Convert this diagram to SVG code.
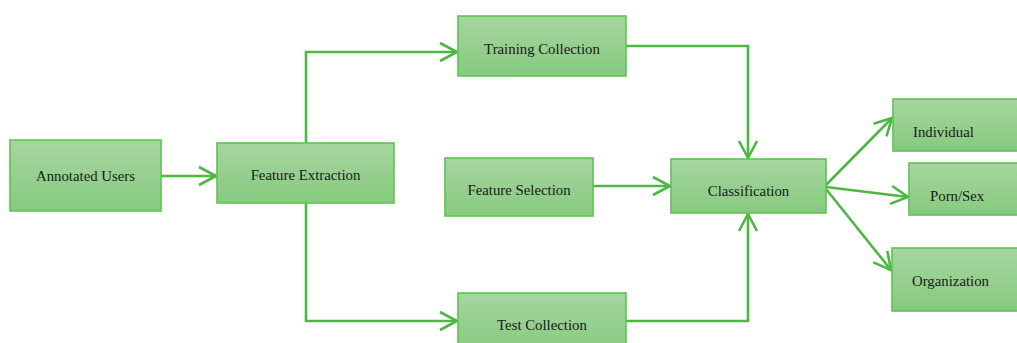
<svg xmlns="http://www.w3.org/2000/svg" width="1017" height="343" viewBox="0 0 1017 343">
  <style>
    .box { fill: url(#boxFill); stroke: #5ec353; stroke-width: 1.6; }
    .lbl { font-family: "Liberation Serif", "DejaVu Serif", serif; font-size: 14.8px; fill: #1a1a1a; }
    .mid { text-anchor: middle; }
    .wire { fill: none; stroke: #4cb843; stroke-width: 2.6; stroke-linejoin: miter; marker-end: url(#chev); }
  </style>
  <defs>
    <linearGradient id="boxFill" x1="0" y1="0" x2="0" y2="1">
      <stop offset="0" stop-color="#a6d6a0"/>
      <stop offset="1" stop-color="#86ca7e"/>
    </linearGradient>
    <marker id="chev" markerUnits="userSpaceOnUse" markerWidth="24" markerHeight="24" viewBox="-20 -12 24 24" refX="0" refY="0" orient="auto" overflow="visible">
      <path d="M-17,-9 L0,0 L-17,9" fill="none" stroke="#4cb843" stroke-width="2.6"/>
    </marker>
  </defs>

  <rect width="1017" height="343" fill="#ffffff"/>

  <!-- connectors -->
  <g id="connectors">
    <line class="wire" x1="161" y1="176" x2="216" y2="176"/>
    <polyline class="wire" points="306,143 306,52 457,52"/>
    <polyline class="wire" points="306,203 306,321 457,321"/>
    <polyline class="wire" points="626,46 748,46 748,158"/>
    <polyline class="wire" points="626,321 748,321 748,214"/>
    <line class="wire" x1="593" y1="186" x2="670" y2="186"/>
    <line class="wire" x1="826" y1="185" x2="892" y2="118"/>
    <line class="wire" x1="826" y1="187" x2="908" y2="197"/>
    <line class="wire" x1="826" y1="189" x2="891" y2="270"/>
  </g>

  <g id="annotated-users">
    <rect class="box" x="10" y="140" width="151" height="71"/>
    <text class="lbl mid" x="85.5" y="181">Annotated Users</text>
  </g>

  <g id="feature-extraction">
    <rect class="box" x="217" y="143" width="177" height="60"/>
    <text class="lbl mid" x="305.5" y="180">Feature Extraction</text>
  </g>

  <g id="training-collection">
    <rect class="box" x="458" y="16" width="168" height="60"/>
    <text class="lbl mid" x="542" y="54">Training Collection</text>
  </g>

  <g id="feature-selection">
    <rect class="box" x="445" y="158" width="148" height="58"/>
    <text class="lbl mid" x="519" y="195">Feature Selection</text>
  </g>

  <g id="test-collection">
    <rect class="box" x="458" y="293" width="168" height="60"/>
    <text class="lbl mid" x="542" y="330">Test Collection</text>
  </g>

  <g id="classification">
    <rect class="box" x="671" y="159" width="155" height="54"/>
    <text class="lbl mid" x="748.5" y="196">Classification</text>
  </g>

  <g id="individual">
    <rect class="box" x="893" y="99" width="130" height="52"/>
    <text class="lbl" x="913" y="137">Individual</text>
  </g>

  <g id="porn-sex">
    <rect class="box" x="909" y="163" width="114" height="52"/>
    <text class="lbl" x="930" y="201">Porn/Sex</text>
  </g>

  <g id="organization">
    <rect class="box" x="892" y="248" width="131" height="63"/>
    <text class="lbl" x="912" y="286">Organization</text>
  </g>
</svg>
